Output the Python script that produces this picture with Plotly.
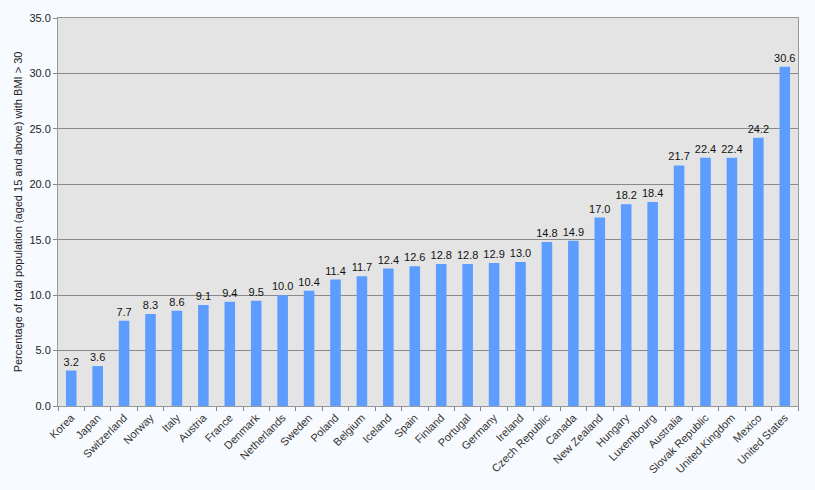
import plotly.graph_objects as go

countries = ["Korea", "Japan", "Switzerland", "Norway", "Italy", "Austria", "France",
             "Denmark", "Netherlands", "Sweden", "Poland", "Belgium", "Iceland", "Spain",
             "Finland", "Portugal", "Germany", "Ireland", "Czech Republic", "Canada",
             "New Zealand", "Hungary", "Luxembourg", "Australia", "Slovak Republic",
             "United Kingdom", "Mexico", "United States"]
values = [3.2, 3.6, 7.7, 8.3, 8.6, 9.1, 9.4, 9.5, 10.0, 10.4, 11.4, 11.7, 12.4, 12.6,
          12.8, 12.8, 12.9, 13.0, 14.8, 14.9, 17.0, 18.2, 18.4, 21.7, 22.4, 22.4, 24.2, 30.6]
y_ticks = [0, 5, 10, 15, 20, 25, 30, 35]

BG = "#F7FAFE"

fig = go.Figure(go.Bar(
    x=countries, y=values,
    marker=dict(color="#5C9DFF", line=dict(width=0)),
    width=0.4,
    text=[f"{v:.1f}" for v in values],
    textposition="outside",
    textangle=0,
    constraintext="none",
    textfont=dict(family="Liberation Sans, Arial", size=11, color="#111111"),
    cliponaxis=False,
))

fig.update_layout(
    width=815, height=490,
    margin=dict(l=58, r=17, t=15, b=84),
    paper_bgcolor=BG,
    plot_bgcolor="#E4E4E4",
    showlegend=False,
    font=dict(family="Liberation Sans, Arial", size=11, color="#222222"),
    bargap=0.6,
)
fig.update_xaxes(
    type="category", tickangle=-45, ticks="outside", tickson="boundaries",
    ticklen=4, tickcolor="#888888", showline=True, linecolor="#999999",
    mirror=True, showgrid=False, tickfont=dict(size=11, color="#333333"),
)
fig.update_yaxes(
    range=[0, 35], tickvals=y_ticks, ticktext=[f"{t:.1f}" for t in y_ticks],
    ticks="outside", ticklen=4, tickcolor="#888888",
    showline=True, linecolor="#999999", mirror=True,
    showgrid=True, gridcolor="#8A8A8A", gridwidth=1, zeroline=False,
    tickfont=dict(size=11, color="#222222"),
    title=dict(text="Percentage of total population (aged 15 and above) with BMI > 30",
               font=dict(size=11, color="#222222"), standoff=4),
)

fig.write_html(
    "out.html",
    config={"displayModeBar": False},
    post_script="document.body.style.margin='0';document.body.style.overflow='hidden';"
                "document.body.style.background='" + BG + "';",
)
